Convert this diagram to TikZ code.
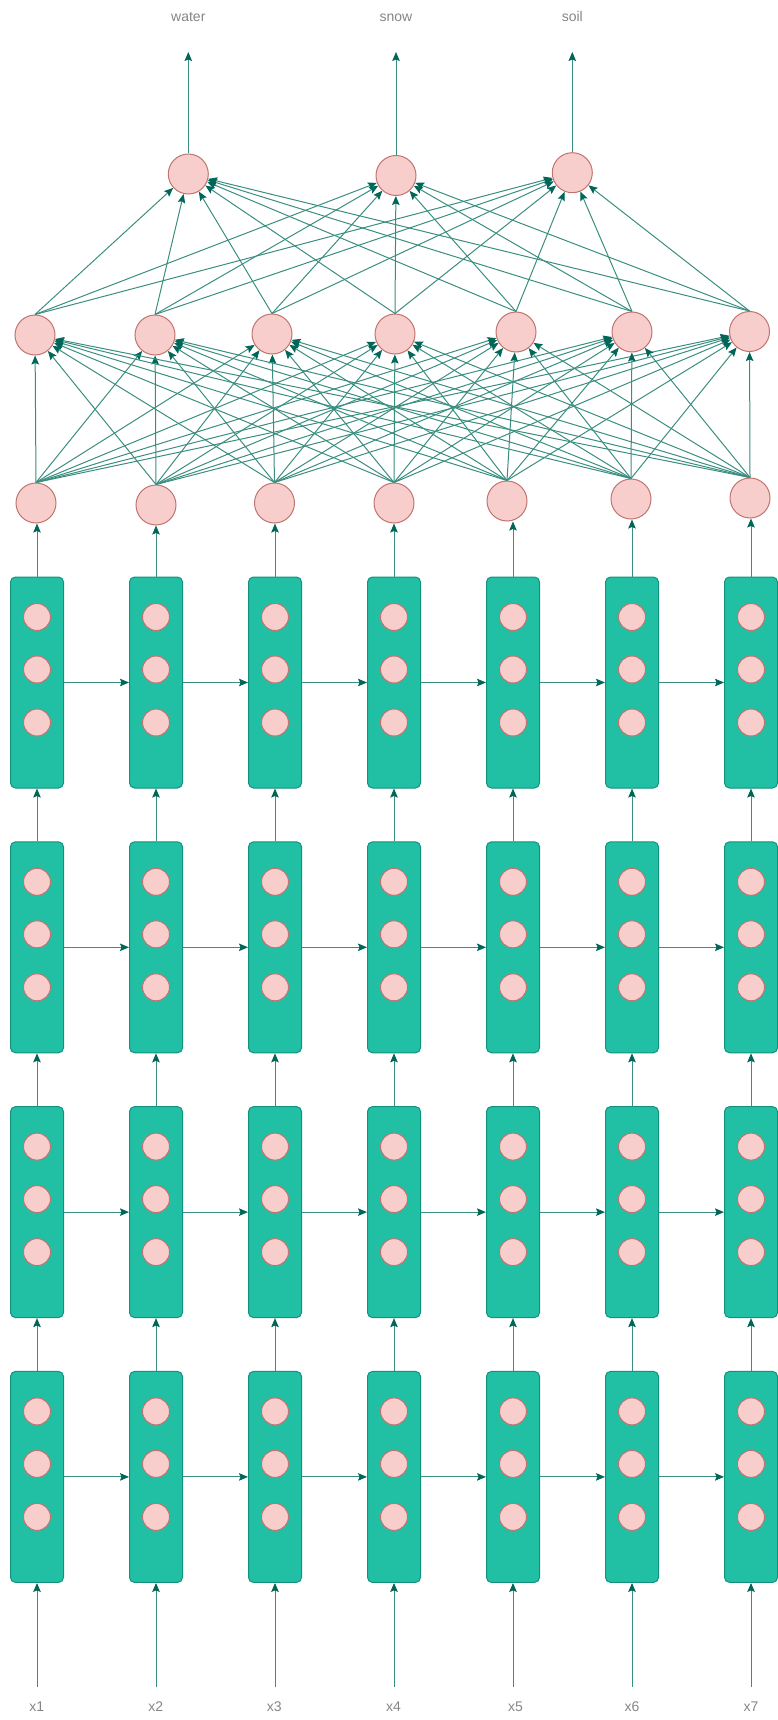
\documentclass[tikz,border=0pt]{standalone}
\usepackage{fontspec}
\setmainfont{Liberation Sans}
\usetikzlibrary{arrows.meta}
\definecolor{boxfill}{HTML}{21C0A5}
\definecolor{boxline}{HTML}{12927C}
\definecolor{edgecol}{HTML}{006658}
\definecolor{edgeline}{HTML}{3A8E80}
\definecolor{neuronfill}{HTML}{F8CECC}
\definecolor{neuronline}{HTML}{C07470}
\definecolor{labelgray}{HTML}{858585}
\begin{document}
\begin{tikzpicture}[x=1pt,y=-1pt,
  cell/.style={draw=boxline, fill=boxfill, line width=1pt, rounded corners=5pt,
    minimum width=53pt, minimum height=211pt, inner sep=0pt},
  unit/.style={circle, draw=neuronline, fill=neuronfill, line width=1pt,
    minimum size=27pt, inner sep=0pt},
  neuron/.style={circle, draw=neuronline, fill=neuronfill, line width=1pt,
    minimum size=40pt, inner sep=0pt},
  conn/.style={draw=edgeline, line width=1pt,
    -{Stealth[length=9pt,width=7.5pt,inset=1.5pt,color=edgecol]}},
  lbl/.style={text=labelgray, font=\fontsize{14}{16}\selectfont, inner sep=0pt, anchor=base}
]
\useasboundingbox (0,0) rectangle (777,1720);

% LSTM-like boxes with units
\foreach \r in {1,...,4}{
  \foreach \c in {1,...,7}{
    \pgfmathsetmacro{\xx}{37+119*(\c-1)}
    \pgfmathsetmacro{\yy}{577+264.8*(\r-1)+105.5}
    \node[cell] (b\r\c) at (\xx,\yy) {};
    \foreach \k/\dy in {1/-65.5,2/-13,3/40}{
      \pgfmathsetmacro{\uy}{\yy+\dy}
      \node[unit] (u\r\c\k) at (\xx,\uy) {};
    }
  }
}

% horizontal recurrent arrows
\foreach \r in {1,...,4}{
  \foreach \c in {1,...,6}{
    \pgfmathtruncatemacro{\n}{\c+1}
    \draw[conn] (b\r\c.east) -- (b\r\n.west);
  }
}

% vertical arrows between rows
\foreach \r in {1,2,3}{
  \foreach \c in {1,...,7}{
    \pgfmathtruncatemacro{\lo}{\r+1}
    \draw[conn] (b\lo\c.north) -- (b\r\c.south);
  }
}

% inputs
\foreach \c/\lx in {1/36.7,2/155.7,3/274.3,4/393.5,5/515.5,6/632,7/751}{
  \pgfmathsetmacro{\xx}{37+119*(\c-1)}
  \coordinate (in\c) at (\xx,1687);
  \node[lbl] (x\c) at (\lx,1711) {x\c};
  \draw[conn] (in\c) -- (b4\c.south);
}

% lower dense layer
\foreach \c/\hx/\hy in {1/36/503,2/156/505,3/274.5/503,4/394/503,5/507/501,6/631/499,7/750/498}{
  \node[neuron] (h\c) at (\hx,\hy) {};
  \draw[conn] (b1\c.north) -- (b1\c.north |- h\c.south);
}

% upper dense layer
\foreach \c/\gx/\gy in {1/35/335,2/155/335,3/272/334,4/395/334,5/516/332,6/632/332,7/749.5/331.5}{
  \node[neuron] (g\c) at (\gx,\gy) {};
}

% output layer
\foreach \k/\ox/\oy/\txt in {1/188.3/174/water,2/396/175.5/snow,3/572.3/172.7/soil}{
  \node[neuron] (o\k) at (\ox,\oy) {};
  \coordinate (t\k) at (\ox,52);
  \node[lbl] (lab\k) at (\ox,21.5) {\txt};
  \draw[conn] (o\k.north) -- (t\k);
}

% dense connections
\foreach \i in {1,...,7}{
  \foreach \j in {1,...,7}{
    \draw[conn] (h\i.north) -- (g\j);
  }
}
\foreach \j in {1,...,7}{
  \foreach \k in {1,2,3}{
    \draw[conn] (g\j.north) -- (o\k);
  }
}
\end{tikzpicture}
\end{document}
